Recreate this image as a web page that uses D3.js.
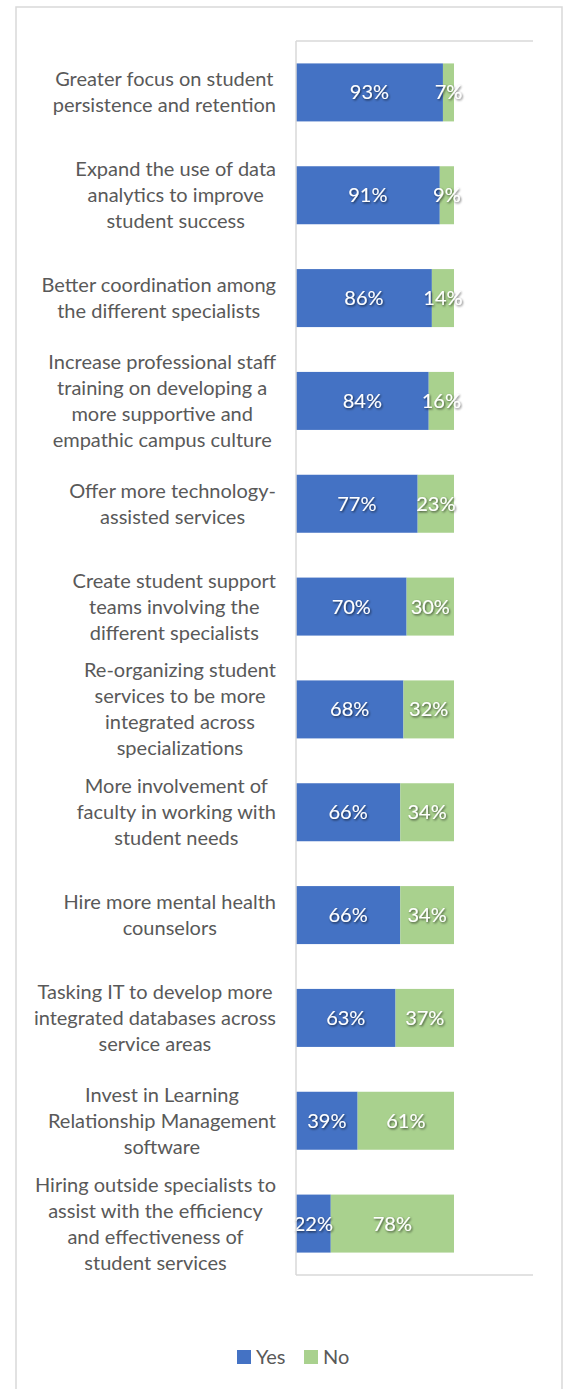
<!DOCTYPE html>
<html><head><meta charset="utf-8">
<script src="https://cdn.jsdelivr.net/npm/d3@7"></script>
<style>body{margin:0;background:#fff;} svg{display:block;}</style>
</head><body>
<script>
const categories = [
  "Greater focus on student\npersistence and retention",
  "Expand the use of data\nanalytics to improve\nstudent success",
  "Better coordination among\nthe different specialists",
  "Increase professional staff\ntraining on developing a\nmore supportive and\nempathic campus culture",
  "Offer more technology-\nassisted services",
  "Create student support\nteams involving the\ndifferent specialists",
  "Re-organizing student\nservices to be more\nintegrated across\nspecializations",
  "More involvement of\nfaculty in working with\nstudent needs",
  "Hire more mental health\ncounselors",
  "Tasking IT to develop more\nintegrated databases across\nservice areas",
  "Invest in Learning\nRelationship Management\nsoftware",
  "Hiring outside specialists to\nassist with the efficiency\nand effectiveness of\nstudent services"
];
const yesValues = [93, 91, 86, 84, 77, 70, 68, 66, 66, 63, 39, 22];
const noValues  = [7, 9, 14, 16, 23, 30, 32, 34, 34, 37, 61, 78];
const seriesNames = ["Yes", "No"];
const seriesColors = ["#4472C4", "#A9D18E"];

(function(){
const W = 563, H = 1389;
const svg = d3.select("body").append("svg").attr("width", W).attr("height", H);
const defs = svg.append("defs");
const f = defs.append("filter").attr("id","sh").attr("x","-20%").attr("y","-20%").attr("width","150%").attr("height","150%");
f.append("feDropShadow").attr("dx",1).attr("dy",1.2).attr("stdDeviation",0.9).attr("flood-color","#000").attr("flood-opacity",0.65);

svg.append("rect").attr("x",16).attr("y",7).attr("width",546).attr("height",1400)
  .attr("fill","#fff").attr("stroke","#d9d9d9").attr("stroke-width",1.5);

const pL = 296, pR = 533, pT = 41, pB = 1275;
const x = d3.scaleLinear().domain([0,150]).range([pL,pR]);
const y = d3.scaleBand().domain(categories).range([pT,pB]).paddingInner(0.436).paddingOuter(0.218);

const font = "Lato, 'Open Sans', sans-serif";
const fs = 20;

const g = svg.append("g");
g.append("line").attr("x1",pL).attr("x2",pR).attr("y1",pT).attr("y2",pT).attr("stroke","#d9d9d9").attr("stroke-width",1.5);
g.append("line").attr("x1",pL).attr("x2",pR).attr("y1",pB).attr("y2",pB).attr("stroke","#d9d9d9").attr("stroke-width",1.5);

const stackData = categories.map((c,i)=>({cat:c, Yes:yesValues[i], No:noValues[i]}));
const stack = d3.stack().keys(seriesNames)(stackData);

stack.forEach((s,si)=>{
  svg.append("g").selectAll("rect").data(s).join("rect")
    .attr("x", d=>x(d[0])).attr("width", d=>x(d[1])-x(d[0]))
    .attr("y", d=>y(d.data.cat)).attr("height", y.bandwidth())
    .attr("fill", seriesColors[si]);
});
stack.forEach((s,si)=>{
  svg.append("g").selectAll("text").data(s).join("text")
    .attr("x", d=>(x(d[0])+x(d[1]))/2)
    .attr("y", d=>y(d.data.cat)+y.bandwidth()/2)
    .attr("dy","0.35em").attr("text-anchor","middle")
    .attr("font-family",font).attr("font-size",fs).attr("fill","#fff")
    .attr("filter","url(#sh)")
    .text(d=>(d[1]-d[0])+"%");
});

svg.append("line").attr("x1",pL).attr("x2",pL).attr("y1",pT).attr("y2",pB).attr("stroke","#d9d9d9").attr("stroke-width",1.5);

const lineH = 26;
const lab = svg.append("g");
categories.forEach(c=>{
  const lines = c.split("\n");
  const cy = y(c) + y.bandwidth()/2;
  const grp = lab.append("g");
  const ts = lines.map((l,i)=>grp.append("text")
    .attr("y", cy + (i-(lines.length-1)/2)*lineH).attr("dy","0.35em")
    .attr("font-family",font).attr("font-size",fs).attr("fill","#595959")
    .attr("text-anchor","middle").text(l));
  const maxW = d3.max(ts, t=>t.node().getComputedTextLength());
  ts.forEach(t=>t.attr("x", 276 - maxW/2));
});

const leg = svg.append("g");
const legItems = [{n:"Yes",x:237},{n:"No",x:304}];
legItems.forEach((it,i)=>{
  leg.append("rect").attr("x",it.x).attr("y",1350).attr("width",14).attr("height",14).attr("fill",seriesColors[i]);
  leg.append("text").attr("x",it.x+19).attr("y",1357).attr("dy","0.35em")
    .attr("font-family",font).attr("font-size",fs).attr("fill","#595959").text(it.n);
});
})();
</script>
</body></html>
